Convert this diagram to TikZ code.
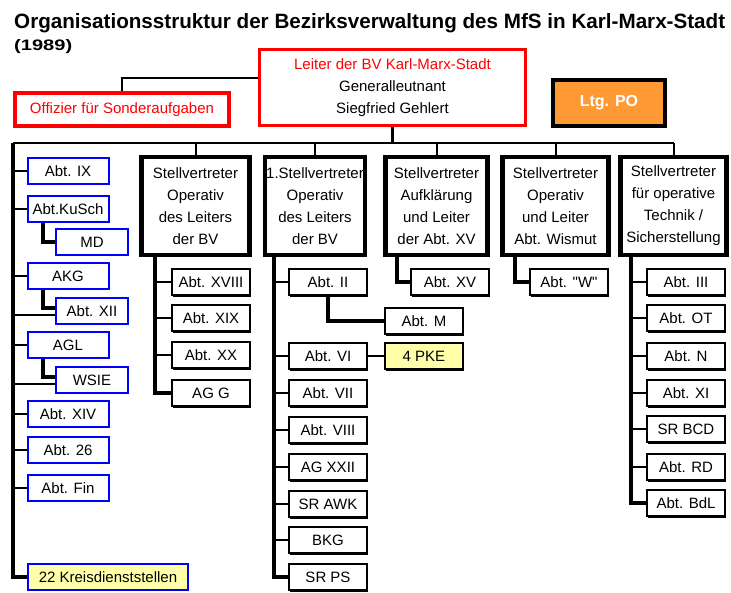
\documentclass[tikz,border=0pt]{standalone}
\usepackage{fontspec}
\setmainfont{Liberation Sans}
\newfontfamily\qfont{Liberation Sans}[Ligatures=ResetAll]
\usepackage{graphicx}
\usetikzlibrary{shadows}
\definecolor{pocol}{RGB}{255,153,51}
\definecolor{kdcol}{RGB}{255,255,170}

\begin{document}
\begin{tikzpicture}[
        x=1pt, y=-1pt,
        font=\fontsize{15pt}{22pt}\selectfont,
        rb/.style={draw=red, line width=3.5pt, fill=white, inner sep=0pt},
        bb/.style={draw=blue, line width=2pt, fill=white, minimum width=81pt, minimum height=26pt, inner sep=0pt},
        sb/.style={minimum width=72pt},
        cb/.style={draw, line width=1.6pt, fill=white, minimum width=78pt, minimum height=26pt, inner sep=0pt,
            drop shadow={shadow xshift=1.3pt, shadow yshift=-2pt, opacity=1, fill=black}},
        db/.style={draw, line width=4.5pt, fill=white, minimum height=98pt, inner sep=0pt, align=center},
        tr/.style={line width=3.5pt},
        br/.style={line width=2pt}
    ]
        \useasboundingbox (0,0) rectangle (731,592);

        % Titel
        \node[anchor=base west, inner sep=0pt] (title) at (14,28)
            {\resizebox{711pt}{15pt}{\bfseries Organisationsstruktur der Bezirksverwaltung des MfS in Karl-Marx-Stadt}};
        \node[anchor=base west, inner sep=0pt] (year) at (14,50) {\resizebox{58pt}{11pt}{\bfseries (1989)}};

        % Leitung
        \node[rb, minimum width=266pt, minimum height=76pt, align=center] (leiter) at (392.5,87.5)
            {\textcolor{red}{Leiter der BV Karl-Marx-Stadt}\\Generalleutnant\\Siegfried Gehlert};
        \node[rb, minimum width=214pt, minimum height=33pt, text=red] (off) at (122,109.5) {Offizier für Sonderaufgaben};
        \node[draw, line width=4pt, fill=pocol, minimum width=112pt, minimum height=46pt, text=white,
            font=\fontsize{16pt}{20pt}\selectfont\bfseries] (po) at (609,103) {Ltg. PO};

        % Stellvertreter
        \node[db, minimum width=108pt] (d1) at (195.5,206) {Stellvertreter\\Operativ\\des Leiters\\der BV};
        \node[db, minimum width=100pt] (d2) at (315,206) {1.Stellvertreter\\Operativ\\des Leiters\\der BV};
        \node[db, minimum width=102pt] (d3) at (436.5,206) {Stellvertreter\\Aufklärung\\und Leiter\\der Abt. XV};
        \node[db, minimum width=106pt] (d4) at (555.5,206) {Stellvertreter\\Operativ\\und Leiter\\Abt. Wismut};
        \node[db, minimum width=106pt] (d5) at (673.5,206) {Stellvertreter\\für operative\\Technik /\\Sicherstellung};

        % linke Spalte
        \node[bb] (ix) at (68,171) {Abt. IX};
        \node[bb] (kusch) at (68,209) {Abt.KuSch};
        \node[bb, sb] (md) at (92,242) {MD};
        \node[bb] (akg) at (68,276) {AKG};
        \node[bb, sb] (xii) at (92,311) {Abt. XII};
        \node[bb] (agl) at (68,345) {AGL};
        \node[bb, sb] (wsie) at (92,380) {WSIE};
        \node[bb] (xiv) at (68,414) {Abt. XIV};
        \node[bb] (a26) at (68,450) {Abt. 26};
        \node[bb] (fin) at (68,488) {Abt. Fin};
        \node[bb, fill=kdcol, minimum width=160pt] (kd) at (108,577) {22 Kreisdienststellen};

        % Spalte 1
        \node[cb] (xviii) at (211,282) {Abt. XVIII};
        \node[cb] (xix) at (211,318) {Abt. XIX};
        \node[cb] (xx) at (211,355) {Abt. XX};
        \node[cb] (agg) at (211,393) {AG G};

        % Spalte 2
        \node[cb] (ii) at (328,282) {Abt. II};
        \node[cb] (m) at (424,321) {Abt. M};
        \node[cb] (vi) at (328,356) {Abt. VI};
        \node[cb, fill=kdcol] (pke) at (424,356) {4 PKE};
        \node[cb] (vii) at (328,393) {Abt. VII};
        \node[cb] (viii) at (328,430) {Abt. VIII};
        \node[cb] (agxxii) at (328,467) {AG XXII};
        \node[cb] (srawk) at (328,504) {SR AWK};
        \node[cb] (bkg) at (328,540) {BKG};
        \node[cb] (srps) at (328,577) {SR PS};

        % Spalte 3 und 4
        \node[cb] (xv) at (450,282) {Abt. XV};
        \node[cb, font=\fontsize{15pt}{22pt}\qfont] (w) at (569,282) {Abt. "W"};

        % Spalte 5
        \node[cb] (iii) at (686,282) {Abt. III};
        \node[cb] (ot) at (686,318) {Abt. OT};
        \node[cb] (n) at (686,356) {Abt. N};
        \node[cb] (xi) at (686,393) {Abt. XI};
        \node[cb] (bcd) at (686,429) {SR BCD};
        \node[cb] (rd) at (686,467) {Abt. RD};
        \node[cb] (bdl) at (686,503) {Abt. BdL};

        % Verbindungen oben
        \coordinate (lt) at (13,143);
        \draw[tr] (leiter.south) -- (leiter.south |- lt);
        \draw[br] (lt) -- (d5.north |- lt);
        \draw[br] ([yshift=10pt]leiter.west) -| (off.north);
        \draw[br] (d1.north |- lt) -- (d1.north);
        \draw[br] (d2.north |- lt) -- (d2.north);
        \draw[br] (d3.north |- lt) -- (d3.north);
        \draw[br] (d4.north |- lt) -- (d4.north);
        \draw[br] (d5.north |- lt) -- (d5.north);

        % linke Spalte
        \draw[tr] (lt) |- (kd.west);
        \draw[br] (lt |- ix.west) -- (ix.west);
        \draw[br] (lt |- kusch.west) -- (kusch.west);
        \draw[br] (lt |- akg.west) -- (akg.west);
        \draw[br] (lt |- xii.west) ++(0,4) -- ([yshift=-4pt]xii.west);
        \draw[br] (lt |- agl.west) -- (agl.west);
        \draw[br] (lt |- wsie.west) ++(0,4) -- ([yshift=-4pt]wsie.west);
        \draw[br] (lt |- xiv.west) -- (xiv.west);
        \draw[br] (lt |- a26.west) -- (a26.west);
        \draw[br] (lt |- fin.west) -- (fin.west);
        \draw[tr] ([xshift=-25pt]kusch.south) |- (md.west);
        \draw[tr] ([xshift=-25pt]akg.south) |- ([yshift=3pt]xii.west);
        \draw[tr] ([xshift=-25pt]agl.south) |- ([yshift=3pt]wsie.west);

        % Spalte 1
        \coordinate (t1) at ([xshift=-40.5pt]d1.south);
        \draw[tr] (t1) |- (agg.west);
        \draw[br] (t1 |- xviii.west) -- (xviii.west);
        \draw[br] (t1 |- xix.west) -- (xix.west);
        \draw[br] (t1 |- xx.west) -- (xx.west);

        % Spalte 2
        \coordinate (t2) at ([xshift=-41pt]d2.south);
        \draw[tr] (t2) |- (srps.west);
        \draw[br] (t2 |- ii.west) -- (ii.west);
        \draw[br] (t2 |- vi.west) -- (vi.west);
        \draw[br] (t2 |- vii.west) -- (vii.west);
        \draw[br] (t2 |- viii.west) -- (viii.west);
        \draw[br] (t2 |- agxxii.west) -- (agxxii.west);
        \draw[br] (t2 |- srawk.west) -- (srawk.west);
        \draw[br] (t2 |- bkg.west) -- (bkg.west);
        \draw[tr] (ii.south) |- (m.west);
        \draw[br] (vi.east) -- (pke.west);

        % Spalte 3 und 4
        \draw[tr] ([xshift=-39.5pt]d3.south) |- (xv.west);
        \draw[tr] ([xshift=-40.5pt]d4.south) |- (w.west);

        % Spalte 5
        \coordinate (t5) at ([xshift=-42.5pt]d5.south);
        \draw[tr] (t5) |- (bdl.west);
        \draw[br] (t5 |- iii.west) -- (iii.west);
        \draw[br] (t5 |- ot.west) -- (ot.west);
        \draw[br] (t5 |- n.west) -- (n.west);
        \draw[br] (t5 |- xi.west) -- (xi.west);
        \draw[br] (t5 |- bcd.west) -- (bcd.west);
        \draw[br] (t5 |- rd.west) -- (rd.west);
    \end{tikzpicture}
\end{document}
